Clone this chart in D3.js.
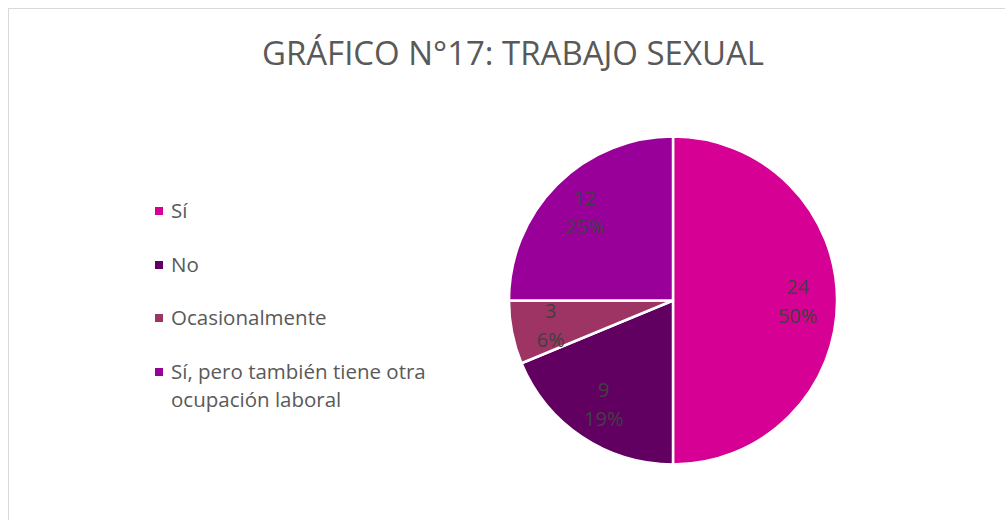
<!DOCTYPE html>
<html>
<head>
<meta charset="utf-8">
<script src="https://cdn.jsdelivr.net/npm/d3@7"></script>
<style>
  html, body { margin: 0; padding: 0; background: #fff; }
  svg { display: block; }
</style>
</head>
<body>
<svg id="chart" width="1005" height="520"></svg>
<script>
const title = "GRÁFICO N°17: TRABAJO SEXUAL";
const categories = ["Sí", "No", "Ocasionalmente", "Sí, pero también tiene otra ocupación laboral"];
const legendLines = [["Sí"], ["No"], ["Ocasionalmente"], ["Sí, pero también tiene otra", "ocupación laboral"]];
const values = [24, 9, 3, 12];
const percentLabels = ["50%", "19%", "6%", "25%"];
const colors = ["#D60094", "#620062", "#9E3463", "#990099"];

const svg = d3.select("#chart");
const W = 1005, H = 520;

svg.append("rect").attr("x", 0).attr("y", 0).attr("width", W).attr("height", H).attr("fill", "#fff");
// chart border (only top/left visible)
svg.append("rect")
  .attr("x", 8.5).attr("y", 8.5).attr("width", W + 20).attr("height", H + 20)
  .attr("fill", "none").attr("stroke", "#d9d9d9").attr("stroke-width", 1);

// title
svg.append("text")
  .attr("x", 513).attr("y", 65)
  .attr("text-anchor", "middle")
  .attr("font-family", "'Open Sans', sans-serif")
  .attr("font-size", 32)
  .attr("fill", "#595959")
  .attr("textLength", 502)
  .attr("lengthAdjust", "spacingAndGlyphs")
  .text(title);

// pie
const cx = 673, cy = 300.5, r = 164;
const pie = d3.pie().sort(null).value(d => d)(values);
const arc = d3.arc().innerRadius(0).outerRadius(r);
const labelArc = d3.arc().innerRadius(r * 0.76).outerRadius(r * 0.76);

const g = svg.append("g").attr("transform", `translate(${cx},${cy})`);
g.selectAll("path").data(pie).join("path")
  .attr("d", arc)
  .attr("fill", (d, i) => colors[i])
  .attr("stroke", "#fff")
  .attr("stroke-width", 2.5)
  .attr("stroke-linejoin", "round");

const lbl = g.selectAll("g.lbl").data(pie).join("g").attr("class", "lbl")
  .attr("transform", d => { const c = labelArc.centroid(d); return `translate(${c[0]},${c[1]})`; });
lbl.append("text")
  .attr("text-anchor", "middle").attr("y", -7)
  .attr("font-family", "'Open Sans', sans-serif").attr("font-size", 20).attr("fill", "#404040")
  .text(d => d.data);
lbl.append("text")
  .attr("text-anchor", "middle").attr("y", 22)
  .attr("font-family", "'Open Sans', sans-serif").attr("font-size", 20).attr("fill", "#404040")
  .text((d, i) => percentLabels[i]);

// legend
const legendY = [211, 265, 318, 372];
const lg = svg.append("g");
categories.forEach((c, i) => {
  lg.append("rect")
    .attr("x", 155).attr("y", legendY[i] - 4).attr("width", 8).attr("height", 8)
    .attr("fill", colors[i]);
  legendLines[i].forEach((line, j) => {
    lg.append("text")
      .attr("x", 171).attr("y", legendY[i] + 7 + j * 28)
      .attr("font-family", "'Open Sans', sans-serif")
      .attr("font-size", 20.5)
      .attr("fill", "#595959")
      .text(line);
  });
});
</script>
</body>
</html>
